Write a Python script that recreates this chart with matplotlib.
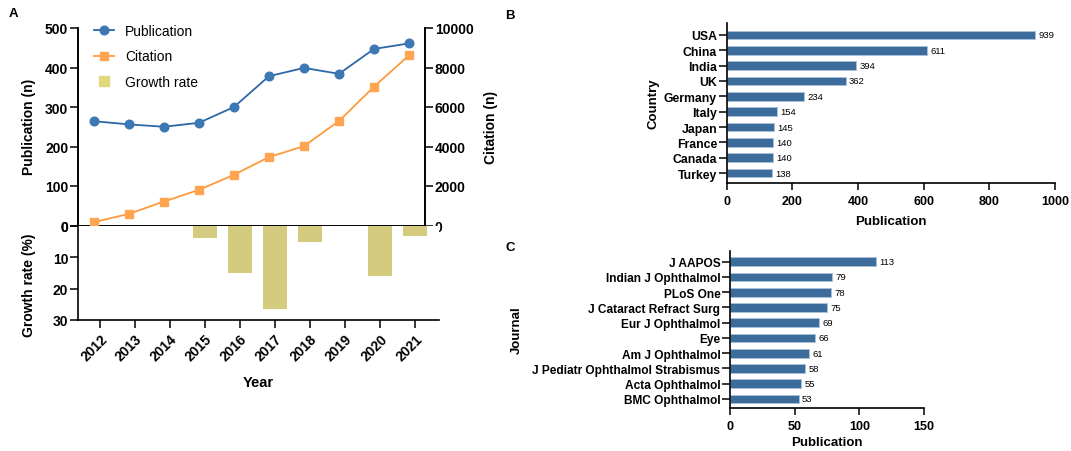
import matplotlib
matplotlib.use("Agg")
import matplotlib.pyplot as plt
from matplotlib.lines import Line2D
import numpy as np

plt.rcParams['font.family'] = ['Liberation Sans', 'DejaVu Sans']

# ---------------- data ----------------
years = ['2012', '2013', '2014', '2015', '2016', '2017', '2018', '2019', '2020', '2021']
publications = [264, 256, 250, 260, 300, 378, 399, 384, 447, 461]
citations = [170, 590, 1215, 1805, 2570, 3465, 4020, 5290, 7030, 8615]
growth_rate = [0, 0, 0, 3.9, 14.9, 26.5, 5.3, 0, 16.1, 3.4]

countries = ['USA', 'China', 'India', 'UK', 'Germany', 'Italy', 'Japan', 'France', 'Canada', 'Turkey']
country_pubs = [939, 611, 394, 362, 234, 154, 145, 140, 140, 138]

journals = ['J AAPOS', 'Indian J Ophthalmol', 'PLoS One', 'J Cataract Refract Surg',
            'Eur J Ophthalmol', 'Eye', 'Am J Ophthalmol',
            'J Pediatr Ophthalmol Strabismus', 'Acta Ophthalmol', 'BMC Ophthalmol']
journal_pubs = [113, 79, 78, 75, 69, 66, 61, 58, 55, 53]

# ---------------- style ----------------
W, H = 1071, 452
BLUE = '#2C67A6'
BLUE_M = '#3B78B4'
ORANGE = '#FF9A3C'
ORANGE_M = '#FFA552'
KHAKI = '#D5CB7E'
KHAKI_L = '#E2D97C'
BAR = '#3C6C9C'
BAR_E = '#A9C0D8'

fig = plt.figure(figsize=(W / 100, H / 100), dpi=100)


def rect(x0, y0, x1, y1):
    return [x0 / W, 1 - y1 / H, (x1 - x0) / W, (y1 - y0) / H]


def style_ticks(ax, size, length=5.5, width=1.1):
    ax.tick_params(direction='out', length=length, width=width, labelsize=size, pad=1.5)
    for lab in ax.get_xticklabels() + ax.get_yticklabels():
        lab.set_fontweight('bold')


SPINE_W = 1.2

# ---------------- Panel A top ----------------
axA = fig.add_axes(rect(78, 29, 425, 226.5))
x = np.arange(len(years))
axA.plot(x, publications, color=BLUE, lw=1.3, marker='o', ms=6.2,
         mfc=BLUE_M, mec=BLUE_M, zorder=3)
axA.set_xlim(-0.457, 9.457)
axA.set_ylim(0, 500)
axA.set_yticks([0, 100, 200, 300, 400, 500])
axA.set_xticks([])
axA.spines['top'].set_visible(False)
for s in ['left', 'bottom', 'right']:
    axA.spines[s].set_linewidth(SPINE_W)
style_ticks(axA, 10)
axA.set_ylabel('Publication (n)', fontsize=10, fontweight='bold', va='center')
axA.yaxis.set_label_coords((29 - 78) / 347, (226.5 - 127) / 197.5)

axA2 = axA.twinx()
axA2.plot(x, citations, color=ORANGE, lw=1.3, marker='s', ms=5.8,
          mfc=ORANGE_M, mec=ORANGE_M, zorder=3)
axA2.set_ylim(0, 10000)
axA2.set_yticks([0, 2000, 4000, 6000, 8000, 10000])
axA2.spines['top'].set_visible(False)
for s in ['left', 'bottom', 'right']:
    axA2.spines[s].set_linewidth(SPINE_W)
style_ticks(axA2, 10)
axA2.set_ylabel('Citation (n)', fontsize=10, fontweight='bold', va='center',
                rotation=90)
axA2.yaxis.set_label_coords((491 - 78) / 347, (226.5 - 127) / 197.5)

handles = [
    Line2D([], [], color=BLUE, lw=1.3, marker='o', ms=6.2, mfc=BLUE_M, mec=BLUE_M),
    Line2D([], [], color=ORANGE, lw=1.3, marker='s', ms=5.8, mfc=ORANGE_M, mec=ORANGE_M),
    Line2D([], [], color=KHAKI_L, lw=0, marker='s', ms=7.5, mfc=KHAKI_L, mec=KHAKI_L),
]
leg = axA2.legend(handles, ['Publication', 'Citation', 'Growth rate'],
                  loc='upper left', bbox_to_anchor=(94 / W, 1 - 25 / H),
                  bbox_transform=fig.transFigure, frameon=False, fontsize=10,
                  handlelength=1.45, handletextpad=0.8, labelspacing=0.82,
                  borderpad=0, borderaxespad=0)

# ---------------- Panel A bottom ----------------
axG = fig.add_axes(rect(78, 226.7, 439, 321))
axG.bar(x, growth_rate, width=0.66, color=KHAKI, lw=0)
axG.set_xlim(-0.629, 9.686)
axG.set_ylim(30, 0)
axG.set_yticks([0, 10, 20, 30])
axG.set_xticks(x)
axG.set_xticklabels(years)
axG.spines['top'].set_visible(False)
axG.spines['right'].set_visible(False)
for s in ['left', 'bottom']:
    axG.spines[s].set_linewidth(SPINE_W)
style_ticks(axG, 10)
for lab in axG.get_xticklabels():
    lab.set_rotation(45)
    lab.set_ha('right')
    lab.set_va('top')
    lab.set_rotation_mode('anchor')
axG.tick_params(axis='x', pad=3)
axG.set_ylabel('Growth rate (%)', fontsize=10, fontweight='bold', va='center')
axG.yaxis.set_label_coords((29 - 78) / 361, (321 - 285) / 94.3)
axG.set_xlabel('Year', fontsize=10.5, fontweight='bold', va='center')
axG.xaxis.set_label_coords((258 - 78) / 361, (321 - 383) / 94.3)

# ---------------- Panel B ----------------
axB = fig.add_axes(rect(726.7, 24, 1055, 184))
yb = np.arange(len(countries))
axB.barh(yb, country_pubs, height=0.58, color=BAR, edgecolor=BAR_E, lw=0.7)
axB.set_xlim(0, 1000)
axB.set_ylim(9.65, -0.78)
axB.set_yticks(yb)
axB.set_yticklabels(countries)
axB.set_xticks([0, 200, 400, 600, 800, 1000])
axB.spines['top'].set_visible(False)
axB.spines['right'].set_visible(False)
for s in ['left', 'bottom']:
    axB.spines[s].set_linewidth(SPINE_W)
style_ticks(axB, 9)
axB.tick_params(axis='y', labelsize=8.8)
axB.tick_params(axis='x', pad=4, length=5)
for yi, v in zip(yb, country_pubs):
    axB.annotate(str(v), (v, yi), xytext=(2.5, 0), textcoords='offset points',
                 va='center', ha='left', fontsize=6.8)
axB.set_xlabel('Publication', fontsize=9.5, fontweight='bold', va='center')
axB.xaxis.set_label_coords(0.5, (184 - 221.7) / 160)
axB.set_ylabel('Country', fontsize=9.5, fontweight='bold', va='center')
axB.yaxis.set_label_coords((653 - 726.7) / 328.3, 0.5)

# ---------------- Panel C ----------------
axC = fig.add_axes(rect(730, 251.7, 924, 409))
yc = np.arange(len(journals))
axC.barh(yc, journal_pubs, height=0.57, color=BAR, edgecolor=BAR_E, lw=0.7)
axC.set_xlim(0, 150)
axC.set_ylim(9.59, -0.72)
axC.set_yticks(yc)
axC.set_yticklabels(journals)
axC.set_xticks([0, 50, 100, 150])
axC.spines['top'].set_visible(False)
axC.spines['right'].set_visible(False)
for s in ['left', 'bottom']:
    axC.spines[s].set_linewidth(SPINE_W)
style_ticks(axC, 9)
axC.tick_params(axis='y', labelsize=8.6)
axC.tick_params(axis='x', pad=4, length=5)
for yi, v in zip(yc, journal_pubs):
    axC.annotate(str(v), (v, yi), xytext=(2.5, 0), textcoords='offset points',
                 va='center', ha='left', fontsize=6.8)
axC.set_xlabel('Publication', fontsize=9.5, fontweight='bold', va='center')
axC.xaxis.set_label_coords(0.5, (409 - 443) / 157.3)
axC.set_ylabel('Journal', fontsize=9.5, fontweight='bold', va='center')
axC.yaxis.set_label_coords((517 - 730) / 194, 0.5)

# ---------------- panel letters ----------------
fig.text(13 / W, 1 - 14 / H, 'A', fontsize=9.5, fontweight='bold', ha='center', va='center')
fig.text(510 / W, 1 - 16 / H, 'B', fontsize=9.5, fontweight='bold', ha='center', va='center')
fig.text(510 / W, 1 - 248 / H, 'C', fontsize=9.5, fontweight='bold', ha='center', va='center')

fig.savefig('out.png', dpi=100)
